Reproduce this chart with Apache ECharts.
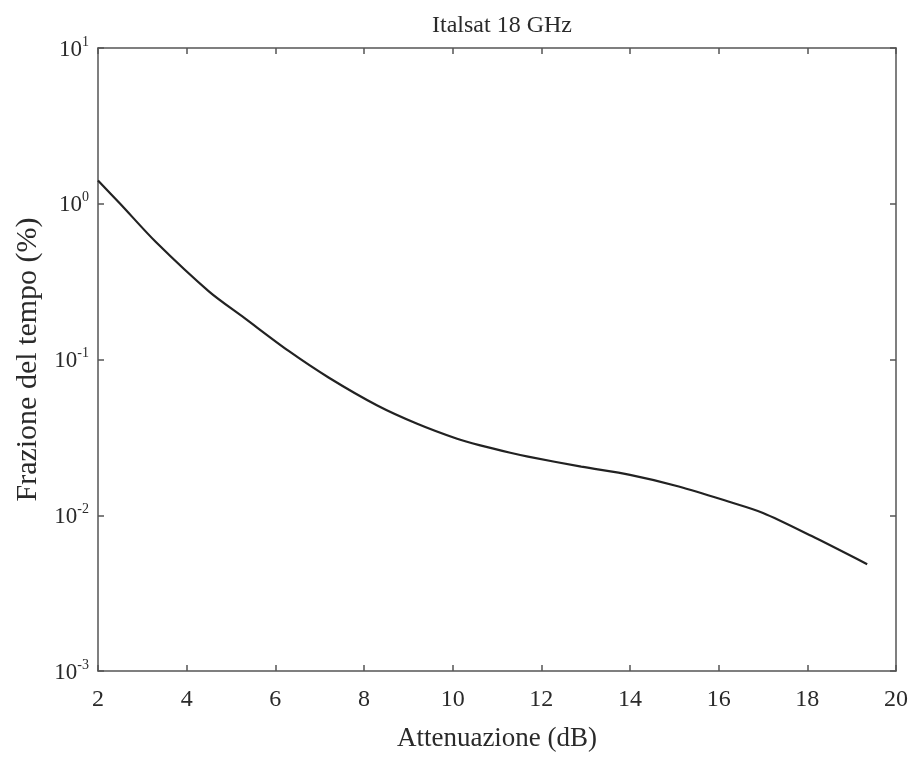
<!DOCTYPE html>
<html>
<head>
<meta charset="utf-8">
<script src="https://cdn.jsdelivr.net/npm/echarts@6/dist/echarts.min.js"></script>
<style>
html,body{margin:0;padding:0;background:#fff;}
#chart{width:918px;height:757px;}
</style>
</head>
<body>
<div id="chart"></div>
<script>
var titleText = 'Italsat 18 GHz';
var xName = 'Attenuazione (dB)';
var yName = 'Frazione del tempo (%)';
var attenuation = [2.0, 2.5, 3.3, 4.5, 5.3, 6.3, 7.2, 8.3, 9.2, 10.1, 10.6, 11.3, 11.7, 12.9, 14.0, 15.1, 16.2, 17.0, 18.1, 19.35];
var fraction = [1.41, 1.0, 0.57, 0.274, 0.185, 0.1135, 0.0767, 0.0507, 0.0387, 0.031, 0.0282, 0.0252, 0.0238, 0.0205, 0.01815, 0.0153, 0.0123, 0.01035, 0.00735, 0.00485];
var xTicks = [2, 4, 6, 8, 10, 12, 14, 16, 18, 20];

var fontFam = '"Liberation Serif", "DejaVu Serif", serif';
var axisColor = '#555';
var textColor = '#2a2a2a';
var points = attenuation.map(function (a, i) { return [a, fraction[i]]; });

function expLabel(v) {
  var e = Math.round(Math.log10(v));
  return '{b|10}{s|' + e + '}';
}
var yRich = {
  b: { fontFamily: fontFam, fontSize: 23, color: textColor, verticalAlign: 'bottom' },
  s: { fontFamily: fontFam, fontSize: 14, color: textColor, verticalAlign: 'top', padding: [0, 0, 12, 0] }
};

var chart = echarts.init(document.getElementById('chart'), null, { renderer: 'canvas' });
chart.setOption({
  backgroundColor: '#fff',
  animation: false,
  title: {
    text: titleText,
    left: 497, top: 9, textAlign: 'center',
    textStyle: { fontFamily: fontFam, fontSize: 24, fontWeight: 'normal', color: textColor }
  },
  grid: { left: 98, top: 48, width: 798, height: 627, containLabel: false },
  xAxis: [{
    type: 'value', min: 2, max: 20, interval: 2,
    name: xName, nameLocation: 'middle', nameGap: 54,
    nameTextStyle: { fontFamily: fontFam, fontSize: 27, color: textColor },
    axisLine: { show: true, onZero: false, lineStyle: { color: axisColor, width: 1.5 } },
    axisTick: { show: true, inside: true, length: 6, lineStyle: { color: axisColor, width: 1.5 } },
    axisLabel: { fontFamily: fontFam, fontSize: 24, color: textColor, margin: 17 },
    splitLine: { show: false }
  }, {
    type: 'value', min: 2, max: 20, interval: 2, position: 'top',
    axisLine: { show: true, onZero: false, lineStyle: { color: axisColor, width: 1.5 } },
    axisTick: { show: true, inside: true, length: 6, lineStyle: { color: axisColor, width: 1.5 } },
    axisLabel: { show: false }, splitLine: { show: false }
  }],
  yAxis: [{
    type: 'log', logBase: 10, min: 0.001, max: 10,
    name: yName, nameLocation: 'middle', nameGap: 52, nameRotate: 90,
    nameTextStyle: { fontFamily: fontFam, fontSize: 30, color: textColor },
    axisLine: { show: true, onZero: false, lineStyle: { color: axisColor, width: 1.5 } },
    axisTick: { show: true, inside: true, length: 6, lineStyle: { color: axisColor, width: 1.5 } },
    axisLabel: { formatter: expLabel, rich: yRich, margin: 9 },
    minorTick: { show: false },
    splitLine: { show: false }
  }, {
    type: 'log', logBase: 10, min: 0.001, max: 10, position: 'right',
    axisLine: { show: true, onZero: false, lineStyle: { color: axisColor, width: 1.5 } },
    axisTick: { show: true, inside: true, length: 6, lineStyle: { color: axisColor, width: 1.5 } },
    axisLabel: { show: false }, splitLine: { show: false }
  }],
  series: [{
    type: 'line',
    data: points,
    smooth: 0.3,
    showSymbol: false,
    lineStyle: { color: '#222', width: 2.2 },
    xAxisIndex: 0, yAxisIndex: 0
  }]
});
</script>
</body>
</html>
